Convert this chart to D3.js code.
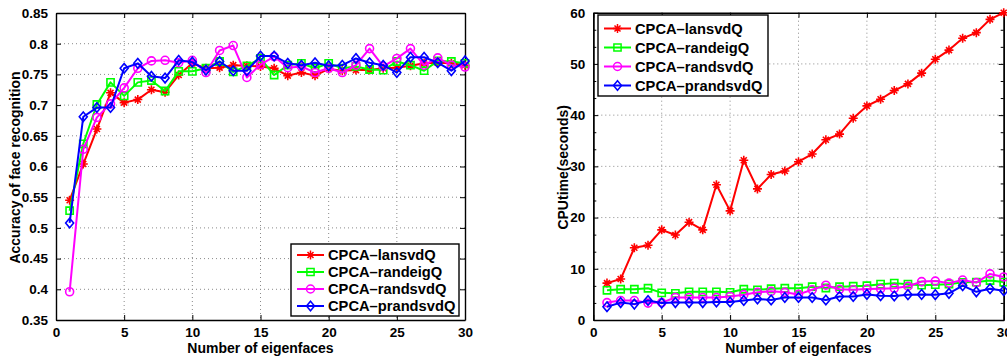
<!DOCTYPE html>
<html>
<head>
<meta charset="utf-8">
<script src="https://cdn.jsdelivr.net/npm/d3@7"></script>
<style>
  body { margin: 0; background: #fff; }
  text { font-family: "Liberation Sans", Arial, Helvetica, sans-serif; font-weight: bold; fill: #000; }
</style>
</head>
<body>
<svg id="chart" width="1007" height="358"></svg>
<script>
// Number of eigenfaces used (x axis of both panels)
const eigenfaces = d3.range(1, 31);
const methodNames = ["CPCA\u2013lansvdQ", "CPCA\u2013randeigQ", "CPCA\u2013randsvdQ", "CPCA\u2013prandsvdQ"];
const methodColors = ["#ff0000", "#00ff00", "#ff00ff", "#0000ff"];
const methodMarkers = ["plus", "square", "circle", "diamond"];

// Recognition accuracy per method
const accLansvd   = [0.545, 0.604, 0.661, 0.720, 0.704, 0.709, 0.725, 0.721, 0.749, 0.768, 0.760, 0.761, 0.765, 0.764, 0.763, 0.760, 0.748, 0.753, 0.748, 0.759, 0.756, 0.757, 0.757, 0.760, 0.761, 0.764, 0.768, 0.769, 0.768, 0.765];
const accRandeig  = [0.528, 0.637, 0.701, 0.737, 0.715, 0.737, 0.740, 0.723, 0.755, 0.755, 0.760, 0.771, 0.754, 0.764, 0.776, 0.749, 0.765, 0.768, 0.760, 0.768, 0.760, 0.763, 0.758, 0.757, 0.771, 0.765, 0.756, 0.772, 0.771, 0.768];
const accRandsvd  = [0.396, 0.628, 0.680, 0.702, 0.728, 0.760, 0.772, 0.773, 0.769, 0.773, 0.753, 0.789, 0.797, 0.745, 0.766, 0.779, 0.761, 0.763, 0.753, 0.760, 0.753, 0.765, 0.792, 0.763, 0.776, 0.792, 0.765, 0.777, 0.765, 0.762];
const accPrandsvd = [0.508, 0.681, 0.696, 0.696, 0.760, 0.768, 0.747, 0.744, 0.773, 0.770, 0.757, 0.771, 0.756, 0.756, 0.780, 0.780, 0.768, 0.765, 0.769, 0.764, 0.765, 0.776, 0.769, 0.765, 0.753, 0.778, 0.778, 0.769, 0.756, 0.772];

// CPU time (seconds) per method
const cpuLansvd   = [7.2, 8.0, 14.1, 14.6, 17.6, 16.6, 19.1, 17.6, 26.4, 21.3, 31.2, 25.6, 28.4, 29.1, 30.9, 32.4, 35.2, 36.3, 39.4, 41.8, 43.1, 44.8, 46.1, 48.2, 50.9, 52.7, 55.0, 56.1, 58.7, 60.0];
const cpuRandeig  = [5.8, 6.0, 6.0, 6.2, 5.3, 5.2, 5.5, 5.5, 5.5, 5.4, 6.0, 5.9, 6.1, 6.2, 6.2, 6.5, 6.25, 6.5, 6.6, 6.7, 7.0, 7.2, 7.0, 6.8, 6.9, 7.0, 7.35, 7.4, 7.7, 7.4];
const cpuRandsvd  = [3.4, 3.8, 3.8, 3.3, 3.4, 4.4, 4.4, 4.4, 4.4, 4.6, 4.95, 5.4, 5.6, 5.4, 5.0, 5.9, 6.8, 6.0, 5.9, 6.05, 6.1, 6.2, 6.6, 7.5, 7.6, 7.2, 7.8, 7.3, 9.0, 8.4];
const cpuPrandsvd = [2.6, 3.4, 3.1, 3.8, 3.3, 3.4, 3.4, 3.4, 3.5, 3.5, 3.8, 4.1, 3.9, 4.4, 4.4, 4.4, 3.9, 4.6, 4.6, 5.0, 4.75, 4.7, 4.95, 5.0, 4.95, 5.2, 6.7, 5.5, 6.1, 5.7];

// Tick values
const xTicks = [0, 5, 10, 15, 20, 25, 30];
const accTicks = [0.35, 0.4, 0.45, 0.5, 0.55, 0.6, 0.65, 0.7, 0.75, 0.8, 0.85];
const cpuTicks = [0, 10, 20, 30, 40, 50, 60];
const cpuMinorTicks = [10/3, 20/3, 40/3, 50/3, 70/3, 80/3, 100/3, 110/3, 130/3, 140/3, 160/3, 170/3];

const svg = d3.select("#chart");

function markerPath(kind) {
  switch (kind) {
    case "plus":    return "M-4.5,0H4.5M0,-4.5V4.5M-3,-3L3,3M-3,3L3,-3";
    case "square":  return "M-3.6,-3.6H3.6V3.6H-3.6Z";
    case "circle":  return d3.symbol(d3.symbolCircle, 50)();
    case "diamond": return "M0,-4.8L4,0L0,4.8L-4,0Z";
  }
}

function drawPanel(cfg) {
  const g = svg.append("g");
  const x = d3.scaleLinear().domain([0, 30]).range([cfg.left, cfg.right]);
  const y = d3.scaleLinear().domain(cfg.yDomain).range([cfg.bottom, cfg.top]);

  // dotted grid
  const grid = g.append("g").attr("stroke", "#8a8a8a").attr("stroke-width", 1).attr("stroke-dasharray", "1,3");
  grid.selectAll(".gx").data(xTicks.slice(1, -1)).join("line")
    .attr("x1", d => x(d)).attr("x2", d => x(d)).attr("y1", cfg.top).attr("y2", cfg.bottom);
  grid.selectAll(".gy").data(cfg.yTicks.slice(1, -1)).join("line")
    .attr("y1", d => y(d)).attr("y2", d => y(d)).attr("x1", cfg.left).attr("x2", cfg.right);

  // axes with inward ticks on all four sides
  const tl = 5;
  g.append("g").attr("transform", `translate(0,${cfg.bottom})`)
    .call(d3.axisBottom(x).tickValues(xTicks).tickSizeInner(-tl).tickSizeOuter(0).tickPadding(7).tickFormat(d3.format("d")));
  g.append("g").attr("transform", `translate(0,${cfg.top})`)
    .call(d3.axisTop(x).tickValues(xTicks).tickSizeInner(-tl).tickSizeOuter(0).tickFormat(""));
  g.append("g").attr("transform", `translate(${cfg.left},0)`)
    .call(d3.axisLeft(y).tickValues(cfg.yTicks).tickSizeInner(-tl).tickSizeOuter(0).tickPadding(8).tickFormat(cfg.yFormat));
  g.append("g").attr("transform", `translate(${cfg.right},0)`)
    .call(d3.axisRight(y).tickValues(cfg.yTicks).tickSizeInner(-tl).tickSizeOuter(0).tickFormat(""));
  if (cfg.minorTicks) {
    g.append("g").attr("transform", `translate(${cfg.left},0)`)
      .call(d3.axisLeft(y).tickValues(cfg.minorTicks).tickSizeInner(-3).tickSizeOuter(0).tickFormat(""));
    g.append("g").attr("transform", `translate(${cfg.right},0)`)
      .call(d3.axisRight(y).tickValues(cfg.minorTicks).tickSizeInner(-3).tickSizeOuter(0).tickFormat(""));
  }
  g.selectAll(".domain").attr("stroke", "#000").attr("stroke-width", 1.4);
  g.selectAll(".tick line").attr("stroke", "#000").attr("stroke-width", 1);
  g.selectAll(".tick text").style("font-size", "13.5px").attr("fill", "#000");

  // series
  const line = d3.line().x((d, i) => x(eigenfaces[i])).y(d => y(d));
  cfg.series.forEach((vals, si) => {
    const sg = g.append("g");
    sg.append("path").datum(vals).attr("d", line)
      .attr("fill", "none").attr("stroke", methodColors[si]).attr("stroke-width", 2).attr("stroke-linejoin", "round");
    sg.selectAll("path.m").data(vals).join("path").attr("class", "m")
      .attr("transform", (d, i) => `translate(${x(eigenfaces[i])},${y(d)})`)
      .attr("d", markerPath(methodMarkers[si]))
      .attr("fill", "none").attr("stroke", methodColors[si]).attr("stroke-width", 1.6);
  });

  // axis titles
  g.append("text").attr("x", (cfg.left + cfg.right) / 2).attr("y", 353)
    .attr("text-anchor", "middle").style("font-size", "14px").text("Number of eigenfaces");
  g.append("text").attr("transform", `translate(${cfg.yLabelX},${(cfg.top + cfg.bottom) / 2 + 1}) rotate(-90)`)
    .attr("text-anchor", "middle").style("font-size", "14px").text(cfg.yLabel);

  // legend
  const L = cfg.legend;
  const lg = g.append("g");
  lg.append("rect").attr("x", L.x).attr("y", L.y).attr("width", L.w).attr("height", L.h)
    .attr("fill", "#fff").attr("stroke", "#000").attr("stroke-width", 1.4);
  methodNames.forEach((name, i) => {
    const cy = L.y + L.first + i * L.step;
    lg.append("line").attr("x1", L.x + 6).attr("x2", L.x + 33).attr("y1", cy).attr("y2", cy)
      .attr("stroke", methodColors[i]).attr("stroke-width", 2);
    lg.append("path").attr("transform", `translate(${L.x + 19.5},${cy})`)
      .attr("d", markerPath(methodMarkers[i])).attr("fill", "none")
      .attr("stroke", methodColors[i]).attr("stroke-width", 1.5);
    lg.append("text").attr("x", L.x + 37).attr("y", cy + 5.3)
      .style("font-size", "14.7px").text(name);
  });
}

drawPanel({
  left: 56, right: 465, top: 13, bottom: 320,
  yDomain: [0.35, 0.85], yTicks: accTicks, yFormat: d => String(+d.toFixed(2)),
  series: [accLansvd, accRandeig, accRandsvd, accPrandsvd],
  yLabel: "Accuracy of face recognition", yLabelX: 20,
  legend: { x: 291, y: 244, w: 168, h: 72, first: 11, step: 17 }
});

drawPanel({
  left: 593.3, right: 1003.7, top: 12.7, bottom: 320,
  yDomain: [0, 60], yTicks: cpuTicks, yFormat: d3.format("d"),
  minorTicks: cpuMinorTicks,
  series: [cpuLansvd, cpuRandeig, cpuRandsvd, cpuPrandsvd],
  yLabel: "CPUtime(seconds)", yLabelX: 568,
  legend: { x: 598, y: 15, w: 170, h: 81, first: 13.5, step: 19 }
});
</script>
</body>
</html>
